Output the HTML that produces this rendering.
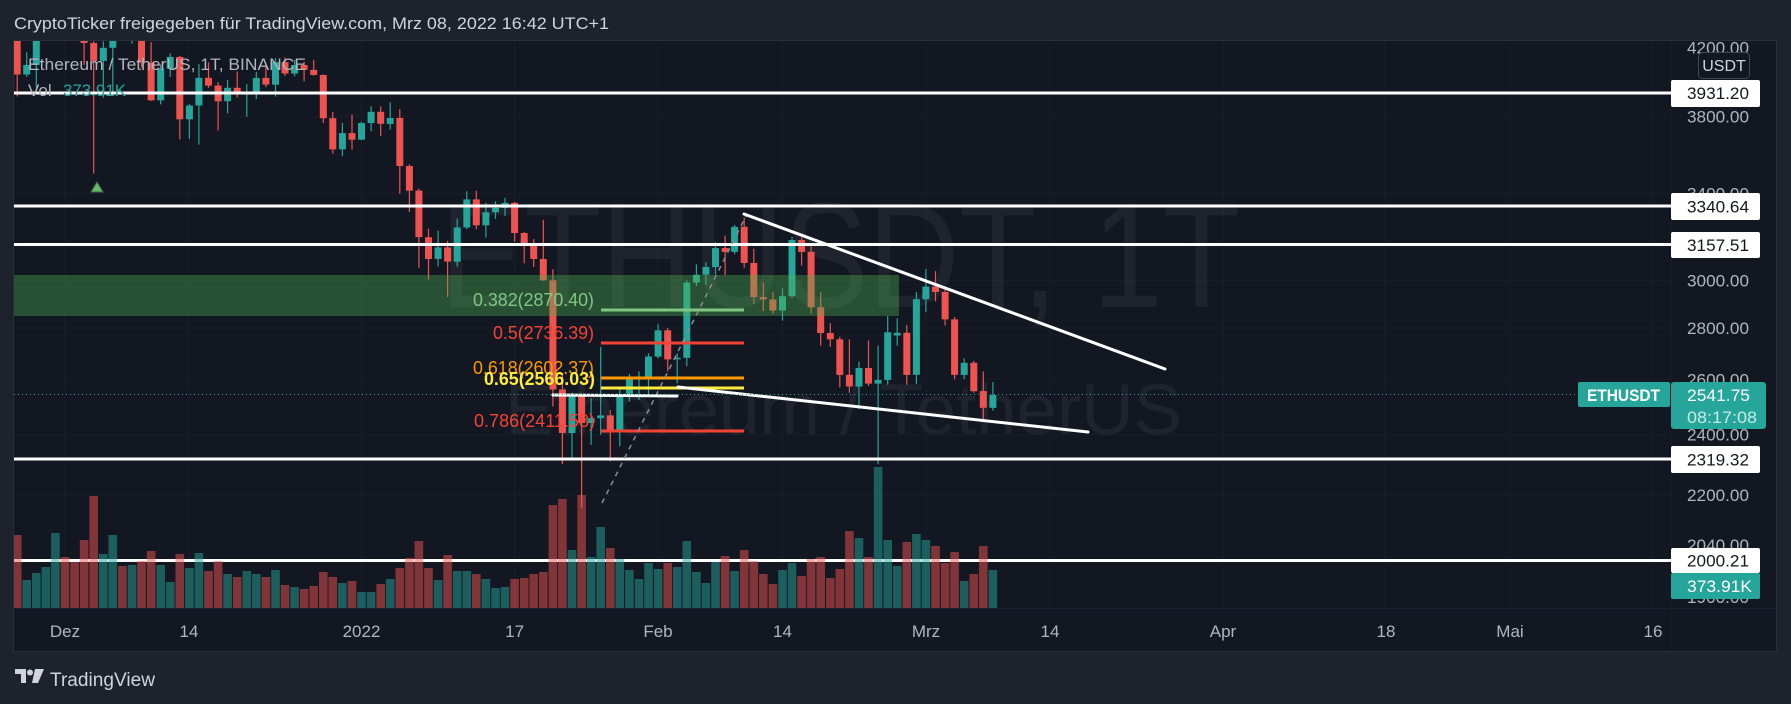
<!DOCTYPE html>
<html><head><meta charset="utf-8">
<style>
html,body{margin:0;padding:0;background:#1e222d;}
svg{display:block;}
text{font-family:"Liberation Sans",sans-serif;}
</style></head>
<body>
<svg id="s" width="1791" height="704" viewBox="0 0 1791 704" xmlns="http://www.w3.org/2000/svg">
<defs>
<clipPath id="plot"><rect x="14" y="41" width="1657" height="567"/></clipPath>
<clipPath id="frame"><rect x="14" y="41" width="1762" height="610"/></clipPath>
</defs>
<rect x="0" y="0" width="1791" height="704" fill="#1e222d"/>
<text x="14" y="29" font-size="17" fill="#d1d4dc" textLength="595" lengthAdjust="spacingAndGlyphs">CryptoTicker freigegeben für TradingView.com, Mrz 08, 2022 16:42 UTC+1</text>
<rect x="13.5" y="40.5" width="1763" height="611" fill="#131722" stroke="#2a2e39" stroke-width="1"/>
<g stroke="#1a1e29" stroke-width="1">
<line x1="65" y1="41" x2="65" y2="608"/><line x1="189" y1="41" x2="189" y2="608"/><line x1="361.5" y1="41" x2="361.5" y2="608"/><line x1="514.6" y1="41" x2="514.6" y2="608"/><line x1="658" y1="41" x2="658" y2="608"/><line x1="782.5" y1="41" x2="782.5" y2="608"/><line x1="926" y1="41" x2="926" y2="608"/><line x1="1050" y1="41" x2="1050" y2="608"/><line x1="1223" y1="41" x2="1223" y2="608"/><line x1="1385" y1="41" x2="1385" y2="608"/><line x1="1510" y1="41" x2="1510" y2="608"/><line x1="1653" y1="41" x2="1653" y2="608"/>
<line x1="14" y1="116.7" x2="1671" y2="116.7"/><line x1="14" y1="193.7" x2="1671" y2="193.7"/><line x1="14" y1="280.3" x2="1671" y2="280.3"/><line x1="14" y1="328" x2="1671" y2="328"/><line x1="14" y1="379.3" x2="1671" y2="379.3"/><line x1="14" y1="434.7" x2="1671" y2="434.7"/><line x1="14" y1="494.9" x2="1671" y2="494.9"/>
</g>
<line x1="14" y1="608.5" x2="1776" y2="608.5" stroke="#1c2030" stroke-width="1"/>
<line x1="1671.5" y1="41" x2="1671.5" y2="651" stroke="#181c27" stroke-width="1"/>
<!-- watermarks -->
<text x="440" y="307" font-size="150" fill="rgba(255,255,255,0.055)" textLength="800" lengthAdjust="spacingAndGlyphs">ETHUSDT, 1T</text>
<text x="505" y="434" font-size="71" fill="rgba(255,255,255,0.055)" textLength="677" lengthAdjust="spacingAndGlyphs">Ethereum / TetherUS</text>
<g clip-path="url(#plot)">
<g id="candles"></g>
<rect x="14" y="275" width="885" height="41" fill="rgba(76,175,80,0.38)"/>
<g stroke="#ffffff" stroke-width="3">
<line x1="14" y1="93" x2="1671" y2="93"/>
<line x1="14" y1="206" x2="1671" y2="206"/>
<line x1="14" y1="244.5" x2="1671" y2="244.5"/>
<line x1="14" y1="459" x2="1671" y2="459"/>
<line x1="14" y1="560.5" x2="1671" y2="560.5"/>
</g>
<g id="vol"></g>
<!-- fib -->
<line x1="601" y1="310" x2="744" y2="310" stroke="#81c784" stroke-width="3"/>
<line x1="601" y1="343" x2="744" y2="343" stroke="#f44336" stroke-width="3"/>
<line x1="601" y1="378" x2="744" y2="378" stroke="#ff9800" stroke-width="3"/>
<line x1="601" y1="388" x2="744" y2="388" stroke="#ffeb3b" stroke-width="3"/>
<line x1="601" y1="431" x2="744" y2="431" stroke="#f44336" stroke-width="3"/>
<text x="473" y="306" font-size="18" fill="#81c784" textLength="121" lengthAdjust="spacingAndGlyphs">0.382(2870.40)</text>
<text x="493" y="339" font-size="18" fill="#f44336" textLength="101" lengthAdjust="spacingAndGlyphs">0.5(2736.39)</text>
<text x="473" y="374" font-size="18" fill="#ff9800" textLength="121" lengthAdjust="spacingAndGlyphs">0.618(2602.37)</text>
<text x="484" y="385" font-size="18" font-weight="bold" fill="#ffeb3b" textLength="111" lengthAdjust="spacingAndGlyphs">0.65(2566.03)</text>
<text x="474" y="427" font-size="18" fill="#f44336" textLength="121" lengthAdjust="spacingAndGlyphs">0.786(2411.58)</text>
<!-- dashed -->
<line x1="602" y1="503" x2="747" y2="214" stroke="#8a8d96" stroke-width="1.5" stroke-dasharray="5 5"/>
<!-- trendlines -->
<g stroke="#ffffff" stroke-width="3" stroke-linecap="round">
<line x1="744" y1="214" x2="1165" y2="369"/>
<line x1="678" y1="387" x2="1088" y2="432"/>
<line x1="553" y1="395" x2="677" y2="396"/>
</g>
<line x1="14" y1="394.5" x2="1578" y2="394.5" stroke="#26a69a" stroke-width="1" stroke-dasharray="1 3"/>
<polygon points="91,192 97,182 103,192" fill="#66bb6a" stroke="#3d6b3f" stroke-width="1"/>
</g>
<!-- legend -->
<text x="28" y="70" font-size="17" fill="#b2b5be" textLength="278" lengthAdjust="spacingAndGlyphs">Ethereum / TetherUS, 1T, BINANCE</text>
<text x="28" y="96" font-size="17" fill="#b2b5be">Vol</text>
<text x="63" y="96" font-size="17" fill="#26a69a" textLength="63" lengthAdjust="spacingAndGlyphs">373.91K</text>
<!-- price axis labels -->
<g clip-path="url(#frame)" font-size="17" fill="#b2b5be">
<text x="1687" y="53.5" textLength="62" lengthAdjust="spacingAndGlyphs">4200.00</text>
<text x="1687" y="122.7" textLength="62" lengthAdjust="spacingAndGlyphs">3800.00</text>
<text x="1687" y="199.7" textLength="62" lengthAdjust="spacingAndGlyphs">3400.00</text>
<text x="1687" y="286.3" textLength="62" lengthAdjust="spacingAndGlyphs">3000.00</text>
<text x="1687" y="334" textLength="62" lengthAdjust="spacingAndGlyphs">2800.00</text>
<text x="1687" y="385.3" textLength="62" lengthAdjust="spacingAndGlyphs">2600.00</text>
<text x="1687" y="440.7" textLength="62" lengthAdjust="spacingAndGlyphs">2400.00</text>
<text x="1687" y="500.9" textLength="62" lengthAdjust="spacingAndGlyphs">2200.00</text>
<text x="1687" y="551" textLength="62" lengthAdjust="spacingAndGlyphs">2040.00</text>
<text x="1687" y="603" textLength="62" lengthAdjust="spacingAndGlyphs">1900.00</text>
</g>
<rect x="1698.5" y="52.5" width="51" height="26" rx="4" fill="#131722" stroke="#434651" stroke-width="1"/>
<text x="1724" y="71" font-size="16" fill="#d1d4dc" text-anchor="middle">USDT</text>
<!-- white level boxes -->
<g fill="#ffffff">
<rect x="1671" y="80" width="89" height="27" rx="2"/>
<rect x="1671" y="193" width="89" height="27" rx="2"/>
<rect x="1671" y="232" width="89" height="26" rx="2"/>
<rect x="1671" y="446" width="89" height="27" rx="2"/>
<rect x="1671" y="548" width="89" height="25" rx="2"/>
</g>
<g font-size="17" fill="#131722">
<text x="1687" y="99" textLength="62" lengthAdjust="spacingAndGlyphs">3931.20</text>
<text x="1687" y="212.5" textLength="62" lengthAdjust="spacingAndGlyphs">3340.64</text>
<text x="1687" y="251" textLength="62" lengthAdjust="spacingAndGlyphs">3157.51</text>
<text x="1687" y="465.5" textLength="62" lengthAdjust="spacingAndGlyphs">2319.32</text>
<text x="1687" y="566.5" textLength="62" lengthAdjust="spacingAndGlyphs">2000.21</text>
</g>
<rect x="1671" y="573" width="89" height="26" rx="2" fill="#26a69a"/>
<text x="1687" y="592" font-size="17" fill="#ffffff" textLength="65" lengthAdjust="spacingAndGlyphs">373.91K</text>
<rect x="1578" y="382" width="92" height="25" rx="2" fill="#26a69a"/>
<text x="1587" y="401" font-size="17" font-weight="bold" fill="#ffffff" textLength="73" lengthAdjust="spacingAndGlyphs">ETHUSDT</text>
<rect x="1671" y="382" width="95" height="47" rx="3" fill="#26a69a"/>
<text x="1687" y="401" font-size="17" fill="#ffffff" textLength="63" lengthAdjust="spacingAndGlyphs">2541.75</text>
<text x="1687" y="423" font-size="17" fill="#c4ebe6" textLength="70" lengthAdjust="spacingAndGlyphs">08:17:08</text>
<!-- time axis -->
<g font-size="17" fill="#b2b5be" text-anchor="middle">
<text x="65" y="637">Dez</text>
<text x="189" y="637">14</text>
<text x="361.5" y="637">2022</text>
<text x="514.6" y="637">17</text>
<text x="658" y="637">Feb</text>
<text x="782.5" y="637">14</text>
<text x="926" y="637">Mrz</text>
<text x="1050" y="637">14</text>
<text x="1223" y="637">Apr</text>
<text x="1386" y="637">18</text>
<text x="1510" y="637">Mai</text>
<text x="1653" y="637">16</text>
</g>
<!-- TradingView logo -->
<g fill="#d1d4dc">
<path d="M15 669 h11 v14 h-5 v-9 h-6 z"/>
<circle cx="30" cy="672.5" r="3"/>
<polygon points="35,669 44,669 38,683 32,683"/>
</g>
<text x="50" y="686" font-size="19" fill="#d1d4dc" textLength="105" lengthAdjust="spacingAndGlyphs">TradingView</text>
</svg>
<script>
(function(){
var D=[[4525,4550,3913,4039],[4039,4170,4025,4095],[4095,4300,3964,4294],[4294,4460,4280,4445],[4445,4780,4432,4631],
[4631,4778,4500,4586],[4586,4646,4427,4511],[4511,4650,4096,4227],[4227,4238,3500,4119],[4119,4237,3906,4198],[4198,4347,3923,4346],[4346,4420,4263,4307],[4307,4444,4223,4433],[4433,4485,4080,4109],[4109,4232,3888,3891],[3891,4099,3868,4073],[4073,4164,4025,4143],[4143,4149,3678,3786],[3786,3870,3680,3862],[3862,4100,3650,4020],[4020,4110,3962,3975],[3975,3995,3725,3886],[3886,4008,3818,3962],[3962,4057,3907,3926],[3926,3983,3800,3936],[3936,4055,3898,4019],[4019,4089,3965,3980],[3980,4137,3912,4112],[4112,4140,4030,4045],[4045,4125,4028,4095],[4095,4113,4000,4066],[4066,4126,4032,4036],[4036,4040,3765,3792],[3792,3827,3603,3625],[3625,3766,3590,3711],[3711,3812,3623,3676],
[3676,3772,3675,3765],[3765,3858,3720,3827],[3827,3857,3695,3761],[3761,3880,3730,3793],[3793,3842,3400,3539],[3539,3547,3311,3415],[3415,3425,3055,3193],[3193,3232,3002,3094],[3094,3223,3061,3146],[3146,3176,2928,3082],[3082,3280,3060,3238],[3238,3412,3230,3372],[3372,3414,3230,3248],[3248,3355,3191,3310],[3310,3363,3278,3331],[3331,3380,3291,3355],[3355,3360,3173,3212],[3212,3218,3075,3164],[3164,3184,3058,3094],[3094,3274,2998,3000],[3000,3048,2500,2562],[2562,2620,2300,2406],[2406,2550,2320,2539],[2539,2545,2159,2441],[2441,2530,2365,2458],[2458,2725,2400,2468],[2468,2487,2310,2417],[2417,2565,2360,2546],[2546,2620,2518,2602],[2602,2630,2524,2603],[2603,2700,2540,2687],
[2687,2815,2680,2791],[2791,2800,2630,2676],[2676,2700,2585,2682],[2682,3000,2650,2990],[2990,3070,2975,3024],[3024,3080,2980,3058],[3058,3170,3025,3143],[3143,3200,3022,3126],[3126,3250,3115,3241],[3241,3284,3055,3076],[3076,3140,2900,2928],[2928,2990,2870,2918],[2918,2950,2857,2872],[2872,2965,2830,2932],[2932,3195,2925,3180],[3180,3190,3065,3126],[3126,3160,2860,2885],[2885,2948,2730,2780],[2780,2820,2725,2755],[2755,2765,2570,2617],[2617,2755,2550,2573],[2573,2667,2490,2643],[2643,2750,2575,2584],[2584,2730,2300,2598],[2598,2850,2580,2783],[2770,2840,2730,2781],[2781,2812,2580,2617],[2617,2950,2583,2919],
[2919,3050,2865,2973],[2973,3040,2910,2950],[2950,2970,2810,2835],[2835,2845,2600,2617],[2617,2680,2601,2663],[2663,2670,2550,2556],[2556,2630,2455,2495],[2495,2590,2485,2541.75]];
var V=[535,580,573,567,533,
557,562,540,496,554,535,566,565,561,551,565,582,554,568,553,571,561,574,577,571,574,577,570,585,587,589,586,572,577,583,581,
592,592,584,579,568,558,541,568,580,555,571,571,574,579,588,587,579,578,574,572,505,499,550,495,557,527,548,559,570,579,563,
569,563,567,541,572,583,562,556,571,550,561,574,584,570,563,576,559,557,578,569,531,538,557,467,540,566,542,534,
540,546,563,552,581,574,546,570];
function Y(p){return 280.3-692*Math.log(p/3000);}
var hc='',hv='';
for(var i=0;i<D.length;i++){
 var c=D[i],x=65+9.566*(i-5),up=c[3]>=c[0],col=up?'#26a69a':'#ef5350';
 var yo=Y(c[0]),yc=Y(c[3]),yh=Y(c[1]),yl=Y(c[2]);
 var top=Math.min(yo,yc),h=Math.max(1,Math.abs(yo-yc));
 hc+='<line x1="'+x.toFixed(1)+'" y1="'+yh.toFixed(1)+'" x2="'+x.toFixed(1)+'" y2="'+yl.toFixed(1)+'" stroke="'+col+'" stroke-width="1.2"/>';
 hc+='<rect x="'+(x-3.5).toFixed(1)+'" y="'+top.toFixed(1)+'" width="7" height="'+h.toFixed(1)+'" fill="'+col+'"/>';
 var vt=V[i];
 hv+='<rect x="'+(x-4.3).toFixed(1)+'" y="'+vt+'" width="8.6" height="'+(608-vt)+'" fill="'+col+'" fill-opacity="0.5"/>';
}
document.getElementById('candles').innerHTML=hc;
document.getElementById('vol').innerHTML=hv;
})();
</script>
</body></html>
